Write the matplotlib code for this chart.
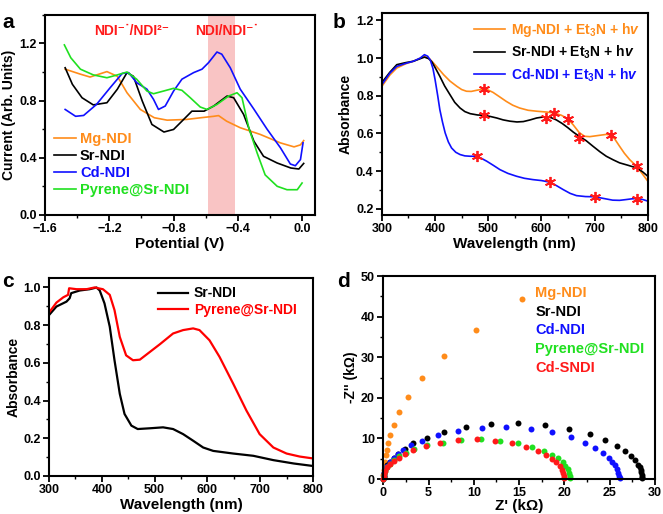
import matplotlib
matplotlib.use("Agg")
import matplotlib.pyplot as plt
from matplotlib.ticker import MultipleLocator

# (a) CV-like curves
mg_a_x = [-1.475, -1.38, -1.32, -1.215, -1.15, -1.09, -1.007, -0.92, -0.84, -0.72, -0.63, -0.55, -0.52, -0.47,
          -0.385, -0.26, -0.135, -0.05, -0.01, 0.01]
mg_a_y = [1.02, 0.985, 0.965, 1.003, 0.97, 0.855, 0.738, 0.68, 0.663, 0.668, 0.68, 0.69, 0.695, 0.656,
          0.61, 0.563, 0.504, 0.476, 0.49, 0.52]
sr_a_x = [-1.475, -1.43, -1.37, -1.30, -1.215, -1.15, -1.09, -1.05, -0.995, -0.935, -0.86, -0.80, -0.748,
          -0.686, -0.61, -0.55, -0.467, -0.426, -0.364, -0.30, -0.24, -0.155, -0.07, -0.02, 0.01]
sr_a_y = [1.03, 0.914, 0.82, 0.77, 0.785, 0.88, 0.996, 0.97, 0.797, 0.633, 0.58, 0.598, 0.656,
          0.726, 0.726, 0.762, 0.832, 0.82, 0.703, 0.516, 0.41, 0.363, 0.328, 0.321, 0.36]
cd_a_x = [-1.475, -1.41, -1.36, -1.28, -1.195, -1.12, -1.08, -1.03, -0.966, -0.925, -0.894, -0.852, -0.80,
          -0.748, -0.675, -0.623, -0.582, -0.53, -0.50, -0.447, -0.385, -0.30, -0.218, -0.135, -0.073,
          -0.042, -0.01, 0.006]
cd_a_y = [0.738, 0.69, 0.696, 0.773, 0.89, 0.99, 0.996, 0.926, 0.88, 0.809, 0.738, 0.762, 0.867,
          0.95, 0.996, 1.02, 1.066, 1.14, 1.125, 1.03, 0.88, 0.74, 0.6, 0.47, 0.356,
          0.344, 0.387, 0.504]
py_a_x = [-1.48, -1.44, -1.38, -1.30, -1.215, -1.15, -1.09, -1.03, -0.966, -0.925, -0.862, -0.80, -0.748,
          -0.696, -0.634, -0.592, -0.53, -0.457, -0.405, -0.374, -0.332, -0.28, -0.23, -0.155, -0.094,
          -0.03, 0.0]
py_a_y = [1.19, 1.10, 1.02, 0.98, 0.96, 0.98, 1.00, 0.95, 0.867, 0.848, 0.867, 0.886, 0.872,
          0.82, 0.755, 0.738, 0.773, 0.832, 0.855, 0.82, 0.61, 0.434, 0.28, 0.2, 0.176,
          0.176, 0.223]
band_a = [-0.585, -0.415]

# (b) absorbance after irradiation
mg_b_x = [300, 315, 328, 345, 359, 380, 390, 397, 406, 416, 428, 441, 450, 459, 468, 478, 492, 500, 509,
          520, 534, 546, 559, 575, 591, 608, 624, 638, 650, 660, 671, 681, 691, 709, 722, 730, 738, 747,
          756, 766, 779, 790, 800]
mg_b_y = [0.85, 0.91, 0.947, 0.97, 0.983, 1.009, 0.995, 0.974, 0.945, 0.912, 0.878, 0.85, 0.833, 0.824,
          0.823, 0.829, 0.836, 0.83, 0.818, 0.797, 0.77, 0.75, 0.735, 0.723, 0.718, 0.714, 0.709, 0.696,
          0.677, 0.645, 0.605, 0.585, 0.583, 0.59, 0.595, 0.592, 0.57, 0.532, 0.495, 0.461, 0.426, 0.385,
          0.347]
sr_b_x = [300, 315, 328, 345, 359, 380, 388, 394, 401, 409, 418, 428, 437, 447, 456, 466, 480, 492, 504,
          516, 528, 541, 554, 566, 579, 591, 600, 609, 618, 628, 639, 650, 660, 671, 684, 697, 710, 722,
          735, 747, 763, 779, 790, 800]
sr_b_y = [0.87, 0.925, 0.965, 0.976, 0.983, 1.005, 0.997, 0.98, 0.945, 0.903, 0.852, 0.806, 0.765, 0.735,
          0.716, 0.705, 0.698, 0.696, 0.69, 0.682, 0.672, 0.665, 0.661, 0.663, 0.672, 0.682, 0.686, 0.688,
          0.684, 0.672, 0.653, 0.63, 0.607, 0.585, 0.562, 0.532, 0.503, 0.479, 0.46, 0.444, 0.431, 0.417,
          0.397, 0.373]
cd_b_x = [300, 315, 328, 345, 359, 372, 380, 386, 391, 396, 400, 405, 409, 414, 419, 425, 431, 439, 447,
          456, 466, 478, 487, 497, 510, 522, 537, 553, 568, 584, 600, 617, 629, 641, 654, 666, 683, 700,
          717, 734, 747, 759, 770, 779, 790, 800]
cd_b_y = [0.859, 0.92, 0.956, 0.972, 0.983, 1.0, 1.018, 1.01, 0.99, 0.945, 0.886, 0.8, 0.726, 0.66, 0.603,
          0.555, 0.523, 0.5, 0.488, 0.481, 0.479, 0.479, 0.468, 0.453, 0.43, 0.408, 0.388, 0.373, 0.362,
          0.355, 0.35, 0.341, 0.322, 0.302, 0.282, 0.27, 0.265, 0.264, 0.255, 0.246, 0.245, 0.249, 0.253,
          0.255, 0.25, 0.241]
star_x = [492, 492, 478, 609, 624, 650, 671, 730, 779, 617, 700, 779]
star_y = [0.836, 0.696, 0.479, 0.682, 0.709, 0.677, 0.576, 0.594, 0.426, 0.341, 0.264, 0.253]

# (c) absorbance
sr_c_x = [300, 314, 333, 339, 342, 358, 377, 390, 396, 405, 415, 424, 434, 443, 456, 468, 491, 516, 535,
          554, 573, 592, 611, 649, 687, 725, 764, 800]
sr_c_y = [0.854, 0.899, 0.925, 0.943, 0.97, 0.984, 0.991, 1.0, 0.984, 0.916, 0.792, 0.614, 0.436, 0.329,
          0.267, 0.249, 0.253, 0.258, 0.249, 0.222, 0.187, 0.151, 0.133, 0.119, 0.107, 0.084, 0.066, 0.053]
py_c_x = [300, 314, 327, 336, 338, 352, 371, 386, 402, 415, 424, 434, 446, 459, 472, 491, 510, 535, 554,
          573, 585, 604, 623, 649, 674, 699, 725, 750, 775, 800]
py_c_y = [0.867, 0.92, 0.948, 0.961, 0.996, 0.991, 0.991, 1.0, 0.991, 0.961, 0.88, 0.738, 0.64, 0.614,
          0.617, 0.658, 0.699, 0.756, 0.774, 0.783, 0.774, 0.72, 0.632, 0.489, 0.347, 0.222, 0.151, 0.119,
          0.103, 0.093]

# (d) Nyquist
mg_d_x = [0.01, 0.04, 0.15, 0.29, 0.37, 0.51, 0.73, 1.14, 1.76, 2.79, 4.26, 6.68, 10.2, 15.35]
mg_d_y = [1.0, 2.29, 4.09, 5.81, 7.2, 8.84, 10.8, 13.3, 16.4, 20.2, 24.8, 30.3, 36.8, 44.3]
sr_d_x = [0.02, 0.05, 0.12, 0.25, 0.45, 0.75, 1.15, 1.62, 2.35, 3.34, 4.81, 6.68, 9.11, 11.9, 14.9, 17.85,
          20.5, 22.8, 24.5, 25.8, 26.7, 27.3, 27.8, 28.1, 28.3, 28.4, 28.5, 28.55, 28.6, 28.6]
sr_d_y = [0.1, 0.7, 1.5, 2.5, 3.4, 4.3, 5.2, 6.14, 7.45, 8.84, 10.2, 11.5, 12.8, 13.6, 13.7, 13.3,
          12.4, 11.1, 9.66, 8.18, 6.79, 5.73, 4.58, 3.5, 2.9, 2.3, 1.7, 1.1, 0.6, 0.15]
cd_d_x = [0.02, 0.05, 0.12, 0.25, 0.45, 0.75, 1.15, 1.6, 2.2, 3.08, 4.33, 6.10, 8.30, 10.87, 13.55, 16.27,
          18.6, 20.7, 22.3, 23.4, 24.3, 24.9, 25.3, 25.6, 25.85, 25.96, 26.07, 26.1]
cd_d_y = [0.1, 0.7, 1.5, 2.4, 3.3, 4.3, 5.3, 6.2, 7.2, 8.27, 9.49, 10.8, 11.9, 12.5, 12.8, 12.4,
          11.5, 10.3, 9.0, 7.6, 6.4, 5.3, 4.3, 3.4, 2.5, 1.5, 0.65, 0.15]
py_d_x = [0.02, 0.05, 0.12, 0.25, 0.45, 0.75, 1.2, 1.76, 2.50, 3.45, 4.88, 6.57, 8.59, 10.76, 12.9, 14.84,
          16.45, 17.74, 18.66, 19.3, 19.8, 20.1, 20.35, 20.5, 20.6, 20.65]
py_d_y = [0.1, 0.6, 1.3, 2.1, 2.9, 3.7, 4.6, 5.56, 6.3, 7.28, 8.27, 9.0, 9.66, 9.82, 9.49, 8.92,
          7.94, 6.96, 5.97, 5.07, 4.17, 3.27, 2.45, 1.47, 0.65, 0.15]
cs_d_x = [0.02, 0.05, 0.12, 0.25, 0.45, 0.75, 1.2, 1.7, 2.35, 3.34, 4.74, 6.32, 8.30, 10.36, 12.34, 14.18,
          15.8, 17.1, 18.0, 18.66, 19.1, 19.5, 19.7, 19.83, 19.9, 19.95]
cs_d_y = [0.1, 0.6, 1.3, 2.1, 2.9, 3.7, 4.5, 5.3, 6.14, 7.1, 8.1, 8.9, 9.57, 9.74, 9.41, 8.76,
          7.86, 6.8, 5.8, 4.9, 4.1, 3.1, 2.3, 1.47, 0.65, 0.15]
d_labels = ["Mg-NDI", "Sr-NDI", "Cd-NDI", "Pyrene@Sr-NDI", "Cd-SNDI"]

ORANGE = "#ff8c1a"
BLUE = "#1010ff"
GREEN = "#20e020"
RED = "#ff1a1a"

plt.rcParams["font.family"] = ["Liberation Sans", "DejaVu Sans"]
plt.rcParams["font.weight"] = "bold"
plt.rcParams["axes.labelweight"] = "bold"
plt.rcParams["mathtext.fontset"] = "custom"
plt.rcParams["mathtext.rm"] = "Liberation Sans:bold"
plt.rcParams["mathtext.it"] = "Liberation Sans:bold:italic"
plt.rcParams["mathtext.bf"] = "Liberation Sans:bold"
plt.rcParams["axes.linewidth"] = 1.5
for ax_name in ["xtick", "ytick"]:
    plt.rcParams[ax_name + ".major.width"] = 1.3
    plt.rcParams[ax_name + ".minor.width"] = 1.0
    plt.rcParams[ax_name + ".major.size"] = 4
    plt.rcParams[ax_name + ".minor.size"] = 2.5
    plt.rcParams[ax_name + ".direction"] = "out"
    plt.rcParams[ax_name + ".labelsize"] = 9
    plt.rcParams[ax_name + ".major.pad"] = 2

fig = plt.figure(figsize=(6.63, 5.14), dpi=100)
ax_a = fig.add_axes([0.068, 0.582, 0.407, 0.389])
ax_b = fig.add_axes([0.576, 0.582, 0.401, 0.393])
ax_c = fig.add_axes([0.074, 0.074, 0.398, 0.385])
ax_d = fig.add_axes([0.578, 0.068, 0.410, 0.395])

XLAB = 11
YLAB = 10

# ---- a
ax_a.axvspan(band_a[0], band_a[1], color="#f9c4c4", lw=0, zorder=0)
ax_a.plot(mg_a_x, mg_a_y, color=ORANGE, lw=1.2, label="Mg-NDI")
ax_a.plot(sr_a_x, sr_a_y, color="black", lw=1.2, label="Sr-NDI")
ax_a.plot(cd_a_x, cd_a_y, color=BLUE, lw=1.2, label="Cd-NDI")
ax_a.plot(py_a_x, py_a_y, color=GREEN, lw=1.2, label="Pyrene@Sr-NDI")
ax_a.set_xlim(-1.6, 0.08)
ax_a.set_ylim(0, 1.4)
ax_a.xaxis.set_major_locator(MultipleLocator(0.4))
ax_a.xaxis.set_minor_locator(MultipleLocator(0.2))
ax_a.yaxis.set_major_locator(MultipleLocator(0.4))
ax_a.yaxis.set_minor_locator(MultipleLocator(0.2))
ax_a.set_xlabel("Potential (V)", fontsize=XLAB, labelpad=1)
ax_a.set_ylabel("Current (Arb. Units)", fontsize=YLAB, labelpad=2)
ax_a.text(-1.06, 1.29, "NDI\u207b\u02d9/NDI\u00b2\u207b", color=RED, fontsize=10, ha="center", va="center")
ax_a.text(-0.47, 1.29, "NDI/NDI\u207b\u02d9", color=RED, fontsize=10, ha="center", va="center")
ax_a.legend(loc="lower left", bbox_to_anchor=(0.0, 0.045), frameon=False, fontsize=10.5,
            handlelength=1.5, handletextpad=0.3, labelspacing=0.2, labelcolor="linecolor",
            borderaxespad=0.2)

# ---- b
ax_b.plot(mg_b_x, mg_b_y, color=ORANGE, lw=1.2, label=r"Mg-NDI + Et$_3$N + h$\mathit{v}$")
ax_b.plot(sr_b_x, sr_b_y, color="black", lw=1.2, label=r"Sr-NDI + Et$_3$N + h$\mathit{v}$")
ax_b.plot(cd_b_x, cd_b_y, color=BLUE, lw=1.2, label=r"Cd-NDI + Et$_3$N + h$\mathit{v}$")
ax_b.plot(star_x, star_y, ls="none", marker=(6, 2, 0), ms=8, mew=1.3, color=RED, zorder=5)
ax_b.set_xlim(300, 800)
ax_b.set_ylim(0.168, 1.24)
ax_b.xaxis.set_major_locator(MultipleLocator(100))
ax_b.xaxis.set_minor_locator(MultipleLocator(50))
ax_b.yaxis.set_major_locator(MultipleLocator(0.2))
ax_b.yaxis.set_minor_locator(MultipleLocator(0.1))
ax_b.set_xlabel("Wavelength (nm)", fontsize=XLAB, labelpad=1)
ax_b.set_ylabel("Absorbance", fontsize=YLAB, labelpad=2)
leg_b = ax_b.legend(loc="upper right", frameon=False, fontsize=10, handlelength=2.2, handletextpad=0.4,
                    labelspacing=0.35, borderaxespad=0.2)
for line, txt in zip(leg_b.get_lines(), leg_b.get_texts()):
    txt.set_color(line.get_color())

# ---- c
ax_c.plot(sr_c_x, sr_c_y, color="black", lw=1.6, label="Sr-NDI")
ax_c.plot(py_c_x, py_c_y, color="#ff0000", lw=1.6, label="Pyrene@Sr-NDI")
ax_c.set_xlim(300, 800)
ax_c.set_ylim(0, 1.05)
ax_c.xaxis.set_major_locator(MultipleLocator(100))
ax_c.xaxis.set_minor_locator(MultipleLocator(50))
ax_c.yaxis.set_major_locator(MultipleLocator(0.2))
ax_c.yaxis.set_minor_locator(MultipleLocator(0.1))
ax_c.set_xlabel("Wavelength (nm)", fontsize=XLAB, labelpad=1)
ax_c.set_ylabel("Absorbance", fontsize=YLAB, labelpad=2)
leg_c = ax_c.legend(loc="upper left", bbox_to_anchor=(0.38, 1.0), frameon=False, fontsize=10,
                    handlelength=2.2, handletextpad=0.4, labelspacing=0.2, borderaxespad=0.2)
for line, txt in zip(leg_c.get_lines(), leg_c.get_texts()):
    txt.set_color(line.get_color())

# ---- d
d_series = [(mg_d_x, mg_d_y, ORANGE), (sr_d_x, sr_d_y, "black"), (cd_d_x, cd_d_y, BLUE),
            (py_d_x, py_d_y, GREEN), (cs_d_x, cs_d_y, RED)]
for xs, ys, col in d_series:
    ax_d.plot(xs, ys, ls="none", marker="o", ms=4.3, mew=0, color=col, clip_on=False)
ax_d.set_xlim(0, 30)
ax_d.set_ylim(0, 50)
ax_d.xaxis.set_major_locator(MultipleLocator(5))
ax_d.xaxis.set_minor_locator(MultipleLocator(2.5))
ax_d.yaxis.set_major_locator(MultipleLocator(10))
ax_d.yaxis.set_minor_locator(MultipleLocator(5))
ax_d.set_xlabel("Z' (k\u03a9)", fontsize=XLAB, labelpad=0)
ax_d.set_ylabel("-Z'' (k\u03a9)", fontsize=YLAB, labelpad=2)
for i, (lab, (xs, ys, col)) in enumerate(zip(d_labels, d_series)):
    ax_d.text(0.559, 0.916 - i * 0.092, lab, color=col, fontsize=10.5, transform=ax_d.transAxes,
              ha="left", va="center")

for letter, x, y in [("a", 0.003, 0.975), ("b", 0.502, 0.975), ("c", 0.003, 0.47), ("d", 0.508, 0.47)]:
    fig.text(x, y, letter, fontsize=15, fontweight="bold", va="top", ha="left")

fig.savefig("out.png", dpi=100)
